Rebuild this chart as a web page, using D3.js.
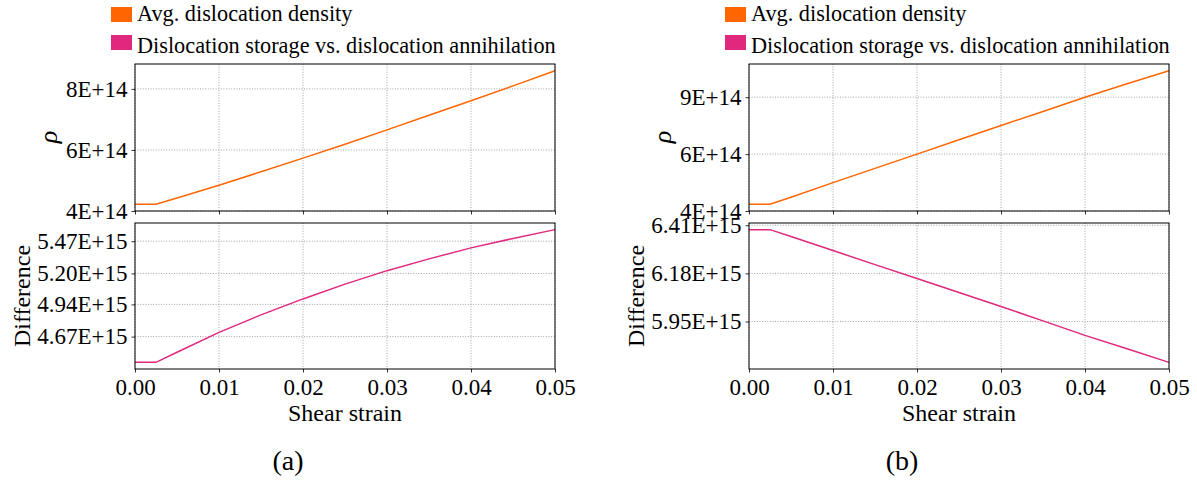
<!DOCTYPE html>
<html lang="en">

<head>
    <meta charset="UTF-8">
    <script src="https://d3js.org/d3.v7.min.js"></script>
    <title>Dislocation density</title>
    <style>
        body { margin: 0; background: #fff; }
    </style>
</head>

<body>
    <svg class="fig"></svg>
    <script>
        // data
        var strain = [0, 0.0025, 0.005, 0.01, 0.015, 0.02, 0.025, 0.03, 0.035, 0.04, 0.045, 0.05];

        var rhoA = [4.20e14, 4.20e14, 4.41e14, 4.83e14, 5.27e14, 5.72e14, 6.18e14, 6.65e14, 7.13e14, 7.61e14, 8.10e14, 8.60e14];
        var diffA = [4.454e15, 4.454e15, 4.539e15, 4.706e15, 4.852e15, 4.986e15, 5.110e15, 5.223e15, 5.322e15, 5.414e15, 5.493e15, 5.567e15];

        var rhoB = [4.20e14, 4.20e14, 4.51e14, 5.14e14, 5.76e14, 6.38e14, 7.00e14, 7.62e14, 8.23e14, 8.85e14, 9.43e14, 10.0e14];
        var diffB = [6.389e15, 6.389e15, 6.356e15, 6.289e15, 6.222e15, 6.156e15, 6.089e15, 6.022e15, 5.953e15, 5.884e15, 5.820e15, 5.755e15];

        var strainTicks = [0, 0.01, 0.02, 0.03, 0.04, 0.05];
        var rhoTicksA = [3.98e14, 5.99e14, 8.00e14];
        var diffTicksA = [4.67e15, 4.94e15, 5.20e15, 5.47e15];
        var rhoTicksB = [3.91e14, 6.38e14, 8.85e14];
        var diffTicksB = [5.95e15, 6.18e15, 6.41e15];

        var legendLabels = ["Avg. dislocation density", "Dislocation storage vs. dislocation annihilation"];
        var colors = ["#ff6600", "#e0287e"];

        var serif = "'Liberation Serif', 'DejaVu Serif', 'Times New Roman', serif";

        var svg = d3.select(".fig")
            .attr("width", 1197)
            .attr("height", 484)
            .attr("font-family", serif);

        // like printf %.nE
        function sci(v, n) {
            var e = Math.floor(Math.log10(Math.abs(v)));
            var m = v / Math.pow(10, e);
            if (+m.toFixed(n) >= 10) { m = m / 10; e += 1; }
            return m.toFixed(n) + "E" + (e < 0 ? "-" : "+") + (Math.abs(e) < 10 ? "0" : "") + Math.abs(e);
        }

        // domain with 5% margins
        function padded(vals) {
            var lo = d3.min(vals), hi = d3.max(vals);
            var m = (hi - lo) * 0.05;
            return [lo - m, hi + m];
        }

        function subplot(g, top, height, width, values, yTicks, digits, color, showXLabels) {
            var x = d3.scaleLinear().domain([0, 0.05]).range([0, width]);
            var y = d3.scaleLinear().domain(padded(values)).range([top + height, top]);

            // grid
            g.append("g").selectAll("line").data(strainTicks).enter().append("line")
                .attr("x1", function(d) { return x(d); })
                .attr("x2", function(d) { return x(d); })
                .attr("y1", top)
                .attr("y2", top + height)
                .attr("stroke", "#8c8c8c")
                .attr("stroke-width", 0.8)
                .attr("stroke-dasharray", "1,1.6");
            g.append("g").selectAll("line").data(yTicks).enter().append("line")
                .attr("x1", 0)
                .attr("x2", width)
                .attr("y1", function(d) { return y(d); })
                .attr("y2", function(d) { return y(d); })
                .attr("stroke", "#8c8c8c")
                .attr("stroke-width", 0.8)
                .attr("stroke-dasharray", "1,1.6");

            var line = d3.line()
                .x(function(d, i) { return x(strain[i]); })
                .y(function(d) { return y(d); });
            g.append("path")
                .datum(values)
                .attr("d", line)
                .attr("fill", "none")
                .attr("stroke", color)
                .attr("stroke-width", 1.5);

            var yAxis = g.append("g")
                .call(d3.axisLeft(y).tickValues(yTicks).tickSize(3.5).tickPadding(4)
                    .tickFormat(function(d) { return sci(d, digits); }));
            yAxis.select(".domain").remove();
            yAxis.attr("font-family", serif).attr("font-size", 23);

            var xAxis = g.append("g")
                .attr("transform", "translate(0," + (top + height) + ")")
                .call(d3.axisBottom(x).tickValues(strainTicks).tickSize(3.5).tickPadding(6)
                    .tickFormat(showXLabels ? d3.format(".2f") : function() { return ""; }));
            xAxis.select(".domain").remove();
            xAxis.attr("font-family", serif).attr("font-size", 23);
            g.selectAll(".tick line").attr("stroke", "#000").attr("stroke-width", 0.8);
            g.selectAll(".tick text").attr("fill", "#000");

            g.append("rect")
                .attr("x", 0)
                .attr("y", top)
                .attr("width", width)
                .attr("height", height)
                .attr("fill", "none")
                .attr("stroke", "#000")
                .attr("stroke-width", 1);
        }

        function panel(ox, rho, diff, rhoTicks, diffTicks, tag) {
            var g = svg.append("g").attr("transform", "translate(" + ox + ",0)");
            var width = 420;

            // legend
            for (var i = 0; i < legendLabels.length; i++) {
                g.append("rect")
                    .attr("x", -24)
                    .attr("y", 7 + 28 * i)
                    .attr("width", 21)
                    .attr("height", 15)
                    .attr("fill", colors[i]);
                g.append("text")
                    .attr("x", 2)
                    .attr("y", 21 + 32 * i)
                    .attr("font-size", 20)
                    .text(legendLabels[i]);
            }
            // scale legend type so the long label spans the plot width like the original
            var longest = g.selectAll("text").filter(function(d, i) { return i == 1; });
            var fs = 20 * 419 / longest.node().getComputedTextLength();
            g.selectAll("text").attr("font-size", fs);

            subplot(g, 64, 147, width, rho, rhoTicks, 0, colors[0], false);
            subplot(g, 223, 146, width, diff, diffTicks, 2, colors[1], true);

            g.append("text")
                .attr("transform", "translate(-78,137) rotate(-90)")
                .attr("text-anchor", "middle")
                .attr("font-size", 26)
                .attr("font-style", "italic")
                .text("ρ");
            g.append("text")
                .attr("transform", "translate(-105,296) rotate(-90)")
                .attr("text-anchor", "middle")
                .attr("font-size", 24)
                .text("Difference");
            g.append("text")
                .attr("x", width / 2)
                .attr("y", 421)
                .attr("text-anchor", "middle")
                .attr("font-size", 24)
                .text("Shear strain");
            g.append("text")
                .attr("x", 153)
                .attr("y", 470)
                .attr("text-anchor", "middle")
                .attr("font-size", 28)
                .text(tag);
        }

        panel(135, rhoA, diffA, rhoTicksA, diffTicksA, "(a)");
        panel(749, rhoB, diffB, rhoTicksB, diffTicksB, "(b)");
    </script>
</body>

</html>
